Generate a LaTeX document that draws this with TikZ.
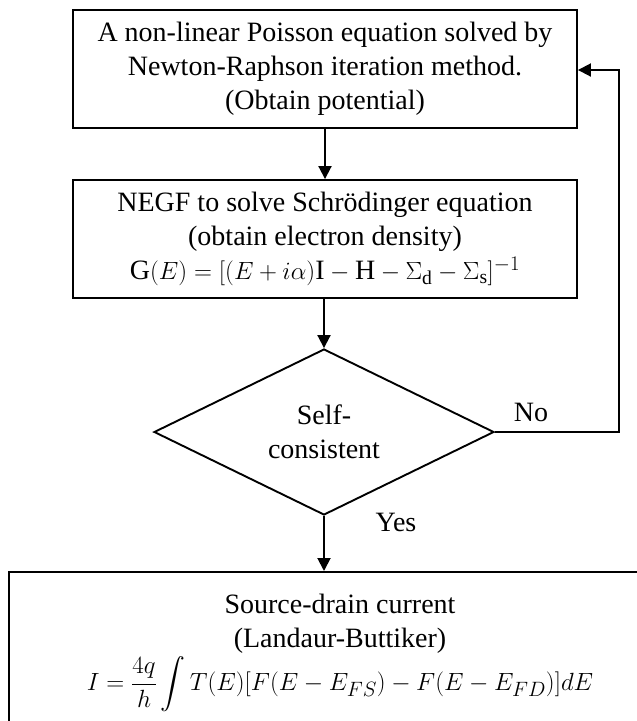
\documentclass[tikz,border=0pt]{standalone}
\usepackage{amsmath}
\usepackage{fontspec}
\setmainfont{Liberation Serif}
\usetikzlibrary{arrows.meta,shapes.geometric}
\tikzset{
  boxnode/.style={draw, line width=1.9pt, align=center, inner sep=0pt},
  flowarrow/.style={line width=1.9pt, -{Triangle[length=13pt,width=13pt]}},
  lbl/.style={inner sep=0pt}
}
\begin{document}
\begin{tikzpicture}[x=1pt,y=-1pt,font=\fontsize{28}{34}\selectfont]
\clip (0,0) rectangle (637,721);
\node[boxnode, minimum width=504pt, minimum height=118pt] (b1) at (325,69)
  {A non-linear Poisson equation solved by\\Newton-Raphson iteration method.\\(Obtain potential)};
\node[boxnode, minimum width=504pt, minimum height=118pt] (b2) at (325,239)
  {NEGF to solve Schrödinger equation\\(obtain electron density)\\
   $\mathrm{G}(E)=[(E+i\alpha)\mathrm{I}-\mathrm{H}-\Sigma_{\mathrm{d}}-\Sigma_{\mathrm{s}}]^{-1}$};
\node[draw, diamond, line width=1.9pt, minimum width=340pt, minimum height=162pt, inner sep=0pt, align=center] (dia) at (324,432)
  {Self-\\consistent};
\node[boxnode, minimum width=674pt, minimum height=190pt, anchor=north west] (b3) at (8,571) {};
\node[lbl, align=center] (t3) at (340,653)
  {Source-drain current\\(Landaur-Buttiker)\\[2pt]
   $I=\dfrac{4q}{h}\displaystyle\int T(E)[F(E-E_{FS})-F(E-E_{FD})]dE$};
\coordinate (corner1) at (619,432);
\coordinate (corner2) at (619,70);
\draw[flowarrow] (b1.south) -- (b2.north);
\draw[flowarrow] (b2.south -| dia.north) -- (dia.north);
\draw[flowarrow] (dia.south) -- (dia.south |- b3.north);
\draw[flowarrow] (dia.east) -- (corner1) -- (corner2) -- (corner2 -| b1.east);
\node[lbl] (no) at (531,412) {No};
\node[lbl] (yes) at (396,522) {Yes};
\end{tikzpicture}
\end{document}
